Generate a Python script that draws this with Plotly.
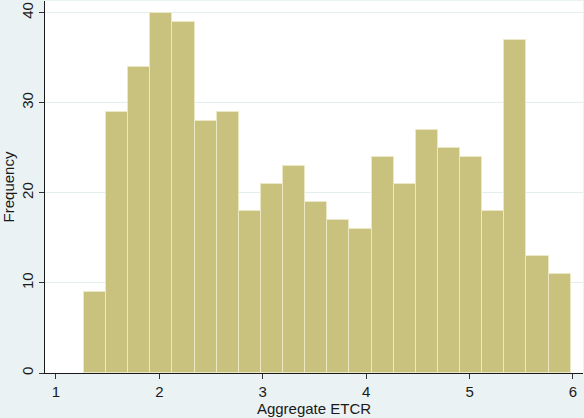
import plotly.graph_objects as go

# Histogram of Aggregate ETCR
bin_start = 1.27
bin_width = 0.214
counts = [9, 29, 34, 40, 39, 28, 29, 18, 21, 23, 19, 17, 16, 24, 21, 27, 25, 24, 18, 37, 13, 11]
x_ticks = [1, 2, 3, 4, 5, 6]
y_ticks = [0, 10, 20, 30, 40]

centers = [bin_start + bin_width * (i + 0.5) for i in range(len(counts))]

fig = go.Figure()
fig.add_trace(go.Bar(
    x=centers, y=counts, width=bin_width,
    marker=dict(color="#c9c27f", line=dict(color="#ece8c6", width=1)),
    hoverinfo="x+y",
))

font = dict(family="Liberation Sans, Arial, sans-serif", size=15, color="#1a1a1a")
fig.update_layout(
    width=584, height=418,
    margin=dict(l=45, r=1, t=1, b=45),
    paper_bgcolor="#eaf2f3",
    plot_bgcolor="#ffffff",
    font=font,
    showlegend=False,
    bargap=0,
    xaxis=dict(
        range=[0.894, 6.097],
        tickvals=x_ticks,
        ticks="outside", ticklen=5, tickcolor="#333333",
        showgrid=False, zeroline=False,
        showline=True, linecolor="#1a1a1a", linewidth=1,
        title=dict(text="Aggregate ETCR", standoff=2, font=dict(size=15)),
    ),
    yaxis=dict(
        range=[0, 41.3],
        tickvals=y_ticks,
        tickangle=-90,
        ticks="outside", ticklen=5, tickcolor="#333333",
        showgrid=True, gridcolor="#e4eeee", gridwidth=1,
        zeroline=False,
        showline=True, linecolor="#1a1a1a", linewidth=1,
        title=dict(text="Frequency", standoff=2, font=dict(size=15)),
    ),
)

fig.write_html(
    "out.html",
    config={"displayModeBar": False},
    post_script="document.body.style.margin='0';document.body.style.background='#eaf2f3';",
)
